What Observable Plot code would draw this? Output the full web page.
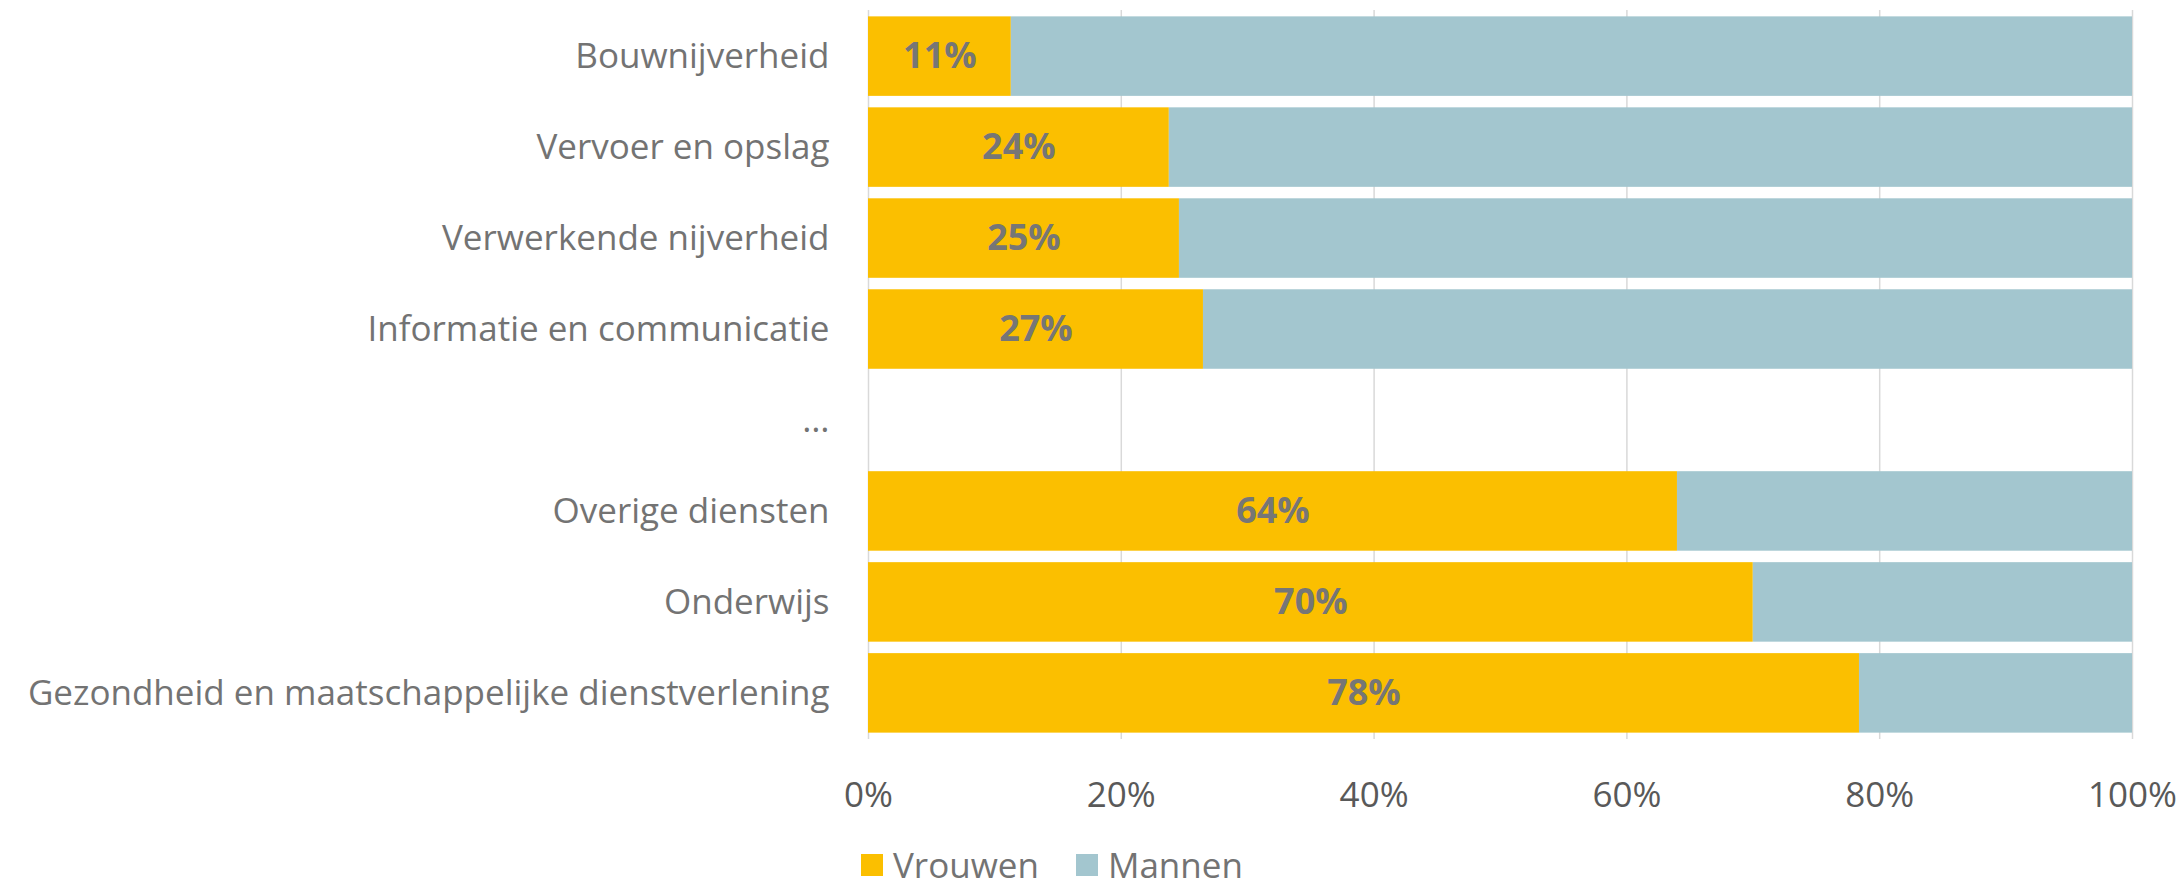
<!DOCTYPE html>
<html>
<head>
<meta charset="utf-8">
<script src="https://cdn.jsdelivr.net/npm/d3@7"></script>
<script src="https://cdn.jsdelivr.net/npm/@observablehq/plot@0.6"></script>
<style>
  html, body { margin: 0; padding: 0; background: #fff; }
  body { width: 2184px; height: 887px; overflow: hidden; font-family: "Open Sans", sans-serif; }
  #legend { margin-left: 861px; margin-top: 17px; line-height: 1; }
  .lg-swatches-wrap { min-height: 0 !important; }
  .lg-swatch { margin-right: 37px !important; }
  .lg-swatch > svg { margin-right: 10px !important; }
</style>
</head>
<body>
<div id="chart"></div>
<div id="legend"></div>
<script>
const categories = [
  "Bouwnijverheid",
  "Vervoer en opslag",
  "Verwerkende nijverheid",
  "Informatie en communicatie",
  "…",
  "Overige diensten",
  "Onderwijs",
  "Gezondheid en maatschappelijke dienstverlening"
];
const sectors = [
  "Bouwnijverheid",
  "Vervoer en opslag",
  "Verwerkende nijverheid",
  "Informatie en communicatie",
  "Overige diensten",
  "Onderwijs",
  "Gezondheid en maatschappelijke dienstverlening"
];
const vrouwen = [0.113, 0.238, 0.246, 0.265, 0.64, 0.70, 0.784];
const valueLabels = ["11%", "24%", "25%", "27%", "64%", "70%", "78%"];
const series = ["Vrouwen", "Mannen"];
const colors = ["#FBBF00", "#A3C6CF"];
const xTicks = [0, 0.2, 0.4, 0.6, 0.8, 1];
const xTickLabels = ["0%", "20%", "40%", "60%", "80%", "100%"];

const rows = [];
sectors.forEach((s, i) => {
  rows.push({cat: s, series: "Vrouwen", value: vrouwen[i]});
  rows.push({cat: s, series: "Mannen", value: 1 - vrouwen[i]});
});
const labelRows = sectors.map((s, i) => ({cat: s, value: vrouwen[i], label: valueLabels[i]}));

const FONT = "Open Sans";

const chart = Plot.plot({
  width: 2184,
  height: 830,
  marginLeft: 868,
  marginRight: 52,
  marginTop: 10,
  marginBottom: 91,
  style: {fontFamily: FONT, background: "#fff", overflow: "visible"},
  x: {domain: [0, 1], ticks: xTicks, label: null},
  y: {domain: categories, paddingInner: 0.126, paddingOuter: 0.07, round: false, label: null},
  color: {domain: series, range: colors},
  marks: [
    Plot.ruleX(xTicks, {stroke: "#d9d9d9", strokeWidth: 1.5}),
    Plot.barX(rows, {x: "value", y: "cat", fill: "series"}),
    Plot.text(labelRows, {x: d => d.value / 2, y: "cat", text: "label", fill: "#767676", fontWeight: "bold", fontSize: 36, fontFamily: FONT}),
    Plot.axisY({tickSize: 0, tickPadding: 39, fontSize: 35, fill: "#737373", fontFamily: FONT}),
    Plot.axisX({ticks: xTicks, tickFormat: d => xTickLabels[xTicks.indexOf(d)], tickSize: 0, tickPadding: 43, fontSize: 35, fill: "#595959", fontFamily: FONT, label: null})
  ]
});
document.getElementById("chart").appendChild(chart);

const legend = Plot.legend({
  color: {domain: series, range: colors},
  legend: "swatches",
  swatchSize: 22,
  className: "lg",
  style: {fontSize: "35px", color: "#737373", fontFamily: FONT}
});
document.getElementById("legend").appendChild(legend);
</script>
</body>
</html>
